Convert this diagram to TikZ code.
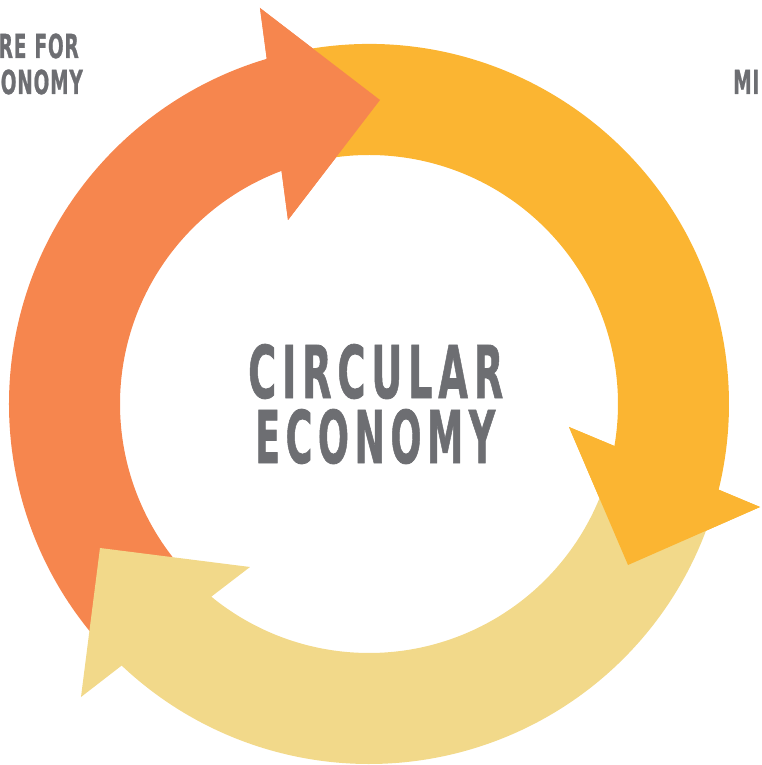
\documentclass[tikz,border=0pt]{standalone}
\usepackage{fontspec}
\usepackage{graphicx}
\newfontfamily\labelfont[BoldFeatures={FakeBold=1.2}]{DejaVu Sans}
\definecolor{arcorange}{HTML}{F6864E}
\definecolor{arcyellow}{HTML}{FBB532}
\definecolor{arclight}{HTML}{F2D98A}
\definecolor{textgray}{HTML}{6D6E72}
\newcommand\gp{\kern1.5pt}
\tikzset{
  titletext/.style={inner sep=0pt, text=textgray, font=\labelfont\bfseries},
  cornertext/.style={inner sep=0pt, text=textgray, font=\labelfont\bfseries\fontsize{33}{40}\selectfont}
}
\begin{document}
\begin{tikzpicture}[x=1pt,y=1pt]
\useasboundingbox (-369,-361) rectangle (392,404);
% orange arrow (lower left -> top)
\fill[arcorange] (225:249pt) -- (225:360pt)
  arc[start angle=225, end angle=106.5, radius=360pt]
  -- (-109,396) -- (11,304) -- (-81,184) -- (110.57:249pt)
  arc[start angle=110.57, end angle=225, radius=249pt] -- cycle;
% yellow arrow (top -> right)
\fill[arcyellow] (102:249pt) -- (102:360pt)
  arc[start angle=102, end angle=-13.77, radius=360pt]
  -- (391,-103) -- (259,-161) -- (200,-23) -- (-9.71:249pt)
  arc[start angle=-9.71, end angle=102, radius=249pt] -- cycle;
% light yellow arrow (right -> lower left)
\fill[arclight] (-20:249pt) -- (-20:360pt)
  arc[start angle=-20, end angle=-133.4, radius=360pt]
  -- (-288,-293) -- (-269,-144) -- (-119,-163) -- (-129.3:249pt)
  arc[start angle=-129.3, end angle=-20, radius=249pt] -- cycle;
% heads on top of the following shafts
\fill[arcorange] (-109,396) -- (11,304) -- (-81,184) -- (110.57:249pt) -- (106.5:360pt) -- cycle;
\fill[arcyellow] (391,-103) -- (259,-161) -- (200,-23) -- (-9.71:249pt) -- (-13.77:360pt) -- cycle;
% texts
\node[titletext, anchor=base west] (t1) at (-121,6) {\resizebox{255pt}{54pt}{C\gp I\gp R\gp C\gp U\gp L\gp A\gp R}};
\node[titletext, anchor=base west] (t2) at (-114,-59) {\resizebox{240pt}{54pt}{E\gp C\gp O\gp N\gp O\gp M\gp Y}};
\node[cornertext, anchor=base east] (c1) at (-290,346) {\scalebox{0.56}[1]{R\gp E\gp{} \gp F\gp O\gp R}};
\node[cornertext, anchor=base east] (c2) at (-286,310) {\scalebox{0.56}[1]{O\gp N\gp O\gp M\gp Y}};
\node[cornertext, anchor=base west] (c3) at (364,310) {\scalebox{0.56}[1]{M\gp I}};
\end{tikzpicture}
\end{document}
